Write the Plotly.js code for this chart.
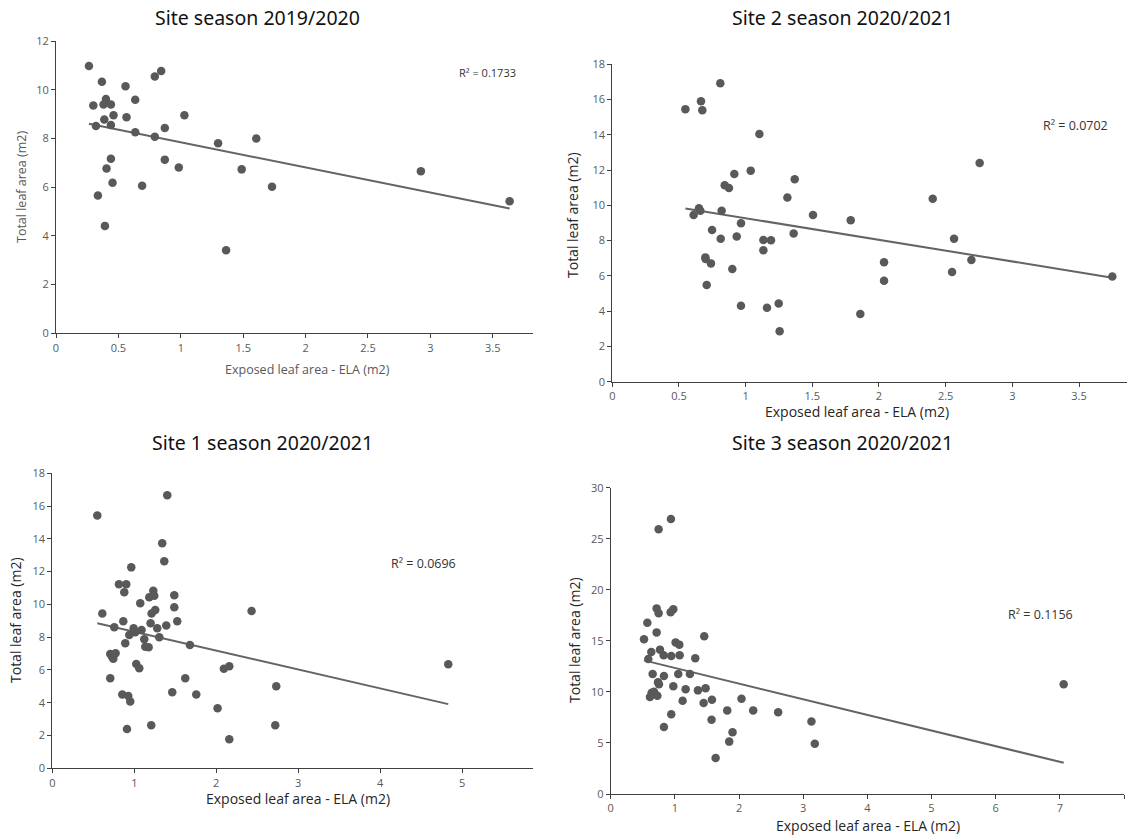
<!DOCTYPE html>
<html>
<head>
<meta charset="utf-8">
<script src="https://cdn.plot.ly/plotly-3.0.1.min.js"></script>
<style>html,body{margin:0;padding:0;background:#fff;}#chart{width:1127px;height:836px;}</style>
</head>
<body>
<div id="chart"></div>
<script>
// ---------- DATA ----------
const titles = ["Site season 2019/2020", "Site 2 season 2020/2021", "Site 1 season 2020/2021", "Site 3 season 2020/2021"];
const r2Labels = ["R² = 0.1733", "R² = 0.0702", "R² = 0.0696", "R² = 0.1156"];
const xTitle = "Exposed leaf area - ELA (m2)";
const yTitle = "Total leaf area (m2)";

// Site season 2019/2020
const ela1 = [0.264,0.299,0.32,0.336,0.368,0.381,0.387,0.4,0.392,0.405,0.44,0.44,0.44,0.453,0.461,0.557,0.565,0.635,0.635,0.69,0.792,0.843,0.792,0.872,0.872,0.984,1.029,1.299,1.363,1.488,1.605,1.731,2.924,3.635];
const tla1 = [10.97,9.35,8.51,5.66,10.33,9.39,8.78,9.62,4.41,6.77,9.39,8.55,7.17,6.18,8.95,10.14,8.87,9.59,8.25,6.06,10.54,10.77,8.07,8.43,7.13,6.81,8.95,7.8,3.41,6.73,8.0,6.02,6.65,5.42];

// Site 2 season 2020/2021
const ela2 = [0.548,0.61,0.65,0.66,0.665,0.675,0.698,0.7,0.708,0.74,0.748,0.81,0.813,0.82,0.843,0.875,0.9,0.915,0.933,0.965,0.965,1.038,1.103,1.133,1.133,1.16,1.19,1.248,1.255,1.313,1.36,1.368,1.505,1.788,1.86,2.038,2.038,2.403,2.563,2.548,2.693,2.755,3.75];
const tla2 = [15.45,9.45,9.83,9.7,15.9,15.39,7.05,6.96,5.48,6.71,8.6,16.92,8.11,9.7,11.14,10.98,6.39,11.78,8.24,8.98,4.31,11.97,14.05,8.04,7.45,4.2,8.02,4.44,2.86,10.44,8.41,11.48,9.45,9.15,3.84,6.77,5.73,10.38,8.11,6.22,6.9,12.4,5.97];

// Site 1 season 2020/2021
const ela3 = [0.549,0.61,0.707,0.728,0.744,0.772,0.756,0.707,0.813,0.902,0.878,0.866,0.89,0.854,0.927,0.951,0.911,0.963,0.939,0.992,1.012,1.073,1.089,1.024,1.061,1.122,1.134,1.175,1.183,1.199,1.211,1.232,1.244,1.256,1.28,1.305,1.207,1.341,1.366,1.402,1.39,1.463,1.488,1.488,1.524,1.679,1.622,1.756,2.016,2.093,2.159,2.159,2.431,2.732,2.72,4.83];
const tla3 = [15.42,9.44,6.98,6.81,6.69,7.02,8.6,5.49,11.23,11.23,10.74,8.97,7.63,4.51,4.41,4.07,2.4,12.26,8.13,8.54,8.3,10.07,8.44,6.37,6.1,7.87,7.42,7.38,10.43,8.85,9.44,10.84,10.53,9.66,8.54,7.99,2.62,13.73,12.63,16.66,8.72,4.64,10.56,9.82,8.97,7.52,5.49,4.51,3.66,6.08,6.22,1.77,9.6,5.0,2.62,6.35];

// Site 3 season 2020/2021
const ela4 = [0.519,0.571,0.586,0.633,0.612,0.654,0.638,0.675,0.716,0.747,0.716,0.737,0.752,0.727,0.747,0.768,0.825,0.83,0.83,0.939,0.934,0.976,0.944,0.976,0.944,1.012,1.069,1.074,1.053,1.121,1.168,1.235,1.318,1.36,1.458,1.479,1.448,1.578,1.572,1.635,1.816,1.847,1.899,2.039,2.221,2.61,3.129,3.181,7.06];
const tla4 = [15.15,16.78,13.22,13.91,9.5,11.75,9.92,10.02,18.18,17.7,15.83,10.94,10.74,9.63,25.92,14.14,13.58,11.56,6.56,26.93,17.79,18.09,13.52,10.55,7.8,14.85,14.63,13.58,11.75,9.14,10.25,11.75,13.29,10.15,15.44,10.35,8.91,9.24,7.28,3.53,8.19,5.13,6.04,9.34,8.19,8.0,7.1,4.93,10.74];

// ---------- LAYOUT HELPERS ----------
const W = 1127, H = 836;
const px = x => x / W;
const py = y => 1 - y / H;
const MARK = '#595959';
const AXC = '#404040';

const datasets = [[ela1, tla1], [ela2, tla2], [ela3, tla3], [ela4, tla4]];

// panel geometry (pixels)
const panels = [
  {x0: 56, x1: 532.7, yb: 333.3, yt: 41, xr: [0, 3.82], yr: [0, 12], xd: 0.5, yd: 2,
   title: [257, 18], r2: [487, 72], xt: [307, 369], yt_: [21, 187], tf: 12.5, tc: '#595959'},
  {x0: 612.3, x1: 1127, yb: 381.7, yt: 64.3, xr: [0, 3.86], yr: [0, 18], xd: 0.5, yd: 2,
   title: [842, 18], r2: [1075, 125], xt: [857, 411], yt_: [573, 215], tf: 14, tc: '#262626'},
  {x0: 52.3, x1: 532.7, yb: 768.3, yt: 473.3, xr: [0, 5.86], yr: [0, 18], xd: 1, yd: 2,
   title: [262, 443], r2: [423, 563], xt: [298, 798], yt_: [15, 620], tf: 14, tc: '#262626'},
  {x0: 610.7, x1: 1124, yb: 794, yt: 487.7, xr: [0, 8], yr: [0, 30], xd: 1, yd: 5,
   title: [842, 442], r2: [1040, 614], xt: [868, 825], yt_: [574, 640], tf: 14, tc: '#262626'}
];

function fit(xs, ys) {
  const n = xs.length;
  let sx = 0, sy = 0, sxx = 0, sxy = 0;
  for (let i = 0; i < n; i++) { sx += xs[i]; sy += ys[i]; sxx += xs[i]*xs[i]; sxy += xs[i]*ys[i]; }
  const b = (n*sxy - sx*sy) / (n*sxx - sx*sx);
  const a = (sy - b*sx) / n;
  return {a, b};
}

const traces = [];
const layout = {
  width: W, height: H, margin: {l: 0, r: 0, t: 0, b: 0},
  paper_bgcolor: '#fff', plot_bgcolor: '#fff', showlegend: false,
  font: {family: 'Open Sans, Noto Sans, sans-serif', color: '#595959'},
  annotations: []
};

panels.forEach((p, i) => {
  const k = i + 1;
  const xa = 'xaxis' + (k === 1 ? '' : k), ya = 'yaxis' + (k === 1 ? '' : k);
  const xs = 'x' + (k === 1 ? '' : k), ys = 'y' + (k === 1 ? '' : k);
  const [xv, yv] = datasets[i];
  const f = fit(xv, yv);
  const xmin = Math.min(...xv), xmax = Math.max(...xv);
  traces.push({
    type: 'scatter', mode: 'lines', x: [xmin, xmax], y: [f.a + f.b*xmin, f.a + f.b*xmax],
    xaxis: xs, yaxis: ys, line: {color: '#646464', width: 2}, hoverinfo: 'skip'
  });
  traces.push({
    type: 'scatter', mode: 'markers', x: xv, y: yv, xaxis: xs, yaxis: ys,
    marker: {color: MARK, size: 8.5}
  });
  layout[xa] = {
    domain: [px(p.x0), px(p.x1)], range: p.xr, anchor: ys, dtick: p.xd, tick0: 0,
    showgrid: false, zeroline: false, showline: true, linecolor: AXC, linewidth: 1,
    ticks: 'outside', ticklen: 4, tickcolor: AXC, tickfont: {size: 11, color: '#595959'}
  };
  layout[ya] = {
    domain: [py(p.yb), py(p.yt)], range: p.yr, anchor: xs, dtick: p.yd, tick0: 0,
    showgrid: false, zeroline: false, showline: true, linecolor: AXC, linewidth: 1,
    ticks: 'outside', ticklen: 4, tickcolor: AXC, tickfont: {size: 11, color: '#595959'}
  };
  layout.annotations.push({
    xref: 'paper', yref: 'paper', x: px(p.title[0]), y: py(p.title[1]), text: titles[i],
    showarrow: false, xanchor: 'center', yanchor: 'middle',
    font: {size: 19.5, color: '#111', family: 'Noto Sans, Open Sans, sans-serif'}
  });
  layout.annotations.push({
    xref: 'paper', yref: 'paper', x: px(p.r2[0]), y: py(p.r2[1]), text: r2Labels[i],
    showarrow: false, xanchor: 'center', yanchor: 'middle', font: {size: i === 0 ? 11 : 12.5, color: '#333'}
  });
  layout.annotations.push({
    xref: 'paper', yref: 'paper', x: px(p.xt[0]), y: py(p.xt[1]), text: xTitle,
    showarrow: false, xanchor: 'center', yanchor: 'middle', font: {size: p.tf, color: p.tc}
  });
  layout.annotations.push({
    xref: 'paper', yref: 'paper', x: px(p.yt_[0]), y: py(p.yt_[1]), text: yTitle,
    showarrow: false, textangle: -90, xanchor: 'center', yanchor: 'middle', font: {size: p.tf, color: p.tc}
  });
});

Plotly.newPlot('chart', traces, layout, {displayModeBar: false, staticPlot: true});
</script>
</body>
</html>
